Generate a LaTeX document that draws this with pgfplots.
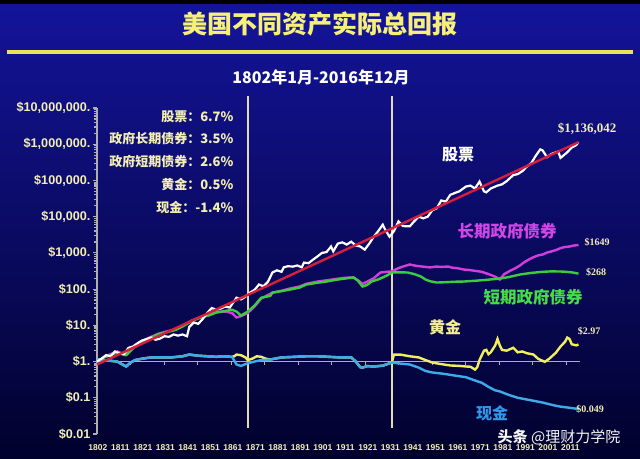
\documentclass[border=0pt]{standalone}
\usepackage{pgfplots}
\pgfplotsset{compat=1.18}
\usepackage{fontspec}
\setmainfont{Liberation Sans}
\newfontfamily\cjk{Noto Sans CJK SC}
\newfontfamily\tms{Liberation Serif}
\definecolor{bgtop}{RGB}{20,20,155}
\definecolor{bgmid}{RGB}{10,10,128}
\definecolor{bgbot}{RGB}{1,1,45}
\definecolor{cream}{RGB}{242,238,180}
\definecolor{titleyellow}{RGB}{246,240,120}
\definecolor{ruleyellow}{RGB}{236,226,90}
\definecolor{trendred}{RGB}{215,30,60}
\definecolor{bondmag}{RGB}{212,60,222}
\definecolor{billgreen}{RGB}{60,205,60}
\definecolor{goldyel}{RGB}{242,240,90}
\definecolor{cashcyan}{RGB}{60,172,232}
\definecolor{lblmag}{RGB}{210,70,232}
\definecolor{lblgreen}{RGB}{70,222,70}
\definecolor{lblgold}{RGB}{242,236,150}
\definecolor{lblcash}{RGB}{50,150,232}
\definecolor{vline}{RGB}{225,220,180}
\definecolor{axisgray}{RGB}{175,175,175}
\begin{document}
\begin{tikzpicture}[x=1pt,y=1pt]
\shade[top color=bgtop, middle color=bgmid, bottom color=bgbot] (0,0) rectangle (640,-458);
\fill[black] (0,0) rectangle (640,-4);
\node[text=titleyellow, font=\cjk\bfseries\fontsize{25}{25}\selectfont] at (320,-24) {美国不同资产实际总回报};
\fill[ruleyellow] (7,-50) rectangle (633,-54);
\node[text=white, font=\cjk\bfseries\fontsize{16}{16}\selectfont] at (321,-77) {1802年1月-2016年12月};
\begin{scope}[every node/.style={anchor=east, text=cream, font=\cjk\bfseries\fontsize{13}{13}\selectfont}]
\node at (237,-117) {股票：6.7\%};
\node at (237,-139) {政府长期债券：3.5\%};
\node at (237,-162) {政府短期债券：2.6\%};
\node at (237,-184) {黄金：0.5\%};
\node at (237,-207) {现金：-1.4\%};
\end{scope}
\draw[vline, line width=1.5pt] (248,-96) -- (248,-428);
\draw[vline, line width=1.5pt] (392,-96) -- (392,-428);
\draw[axisgray, line width=1pt] (97,-361.6) -- (580,-361.6);
\foreach \k in {1,...,14} \draw[axisgray, line width=1pt] ({97+33.5*\k},-361.6) -- ++(0,-3);
\begin{axis}[at={(97pt,-434pt)}, anchor=south west, scale only axis,
  width=481.5pt, height=326pt, xmin=1802, xmax=2016,
  ymode=log, ymin=0.01, ymax=1e7, clip=false,
  axis y line=left, axis x line=bottom, axis line style={-},
  x axis line style={draw=none}, y axis line style={draw=axisgray, line width=1.5pt},
  xtick={1802.4,1812.4,1822.4,1832.4,1842.4,1852.4,1862.4,1872.4,1882.4,1892.4,1902.4,1912.4,1922.4,1932.4,1942.4,1952.4,1962.4,1972.4,1982.4,1992.4,2002.4,2012.4},
  xticklabels={1802,1811,1821,1831,1841,1851,1861,1871,1881,1891,1901,1911,1921,1931,1941,1951,1961,1971,1981,1991,2001,2011},
  xtick style={draw=none},
  xticklabel style={text=cream, font=\bfseries\fontsize{8.5}{8.5}\selectfont, inner sep=0pt, yshift=-6pt},
  ytick={1e-2,1e-1,1,10,100,1000,1e4,1e5,1e6,1e7},
  yticklabels={{\$0.01},{\$0.1},{\$1.},{\$10.},{\$100.},{\$1,000.},{\$10,000.},{\$100,000.},{\$1,000,000.},{\$10,000,000.}},
  yticklabel style={text=cream, font=\bfseries\fontsize{12.6}{12.6}\selectfont, inner sep=0pt, anchor=east, xshift=-2.5pt},
  tick align=outside, major tick length=4pt,
  ytick style={draw=axisgray, line width=1.2pt},
  minor tick num=0,
]
% long-term government bonds
\addplot[bondmag, line width=2.4pt] coordinates {
(1802,1.0) (1805,1.3) (1808,1.6) (1811,1.9) (1813,1.7) (1815,1.6) (1818,2.5) (1821,3.4) (1825,4.5) (1829,5.8) (1833,6.8) (1837,7.8) (1840,9.8) (1844,13.5) (1848,17) (1852,20) (1855,23) (1859,24) (1862,22) (1864,16.5) (1866,18) (1869,22) (1872,33) (1875,55) (1880,80) (1884,90) (1888,105) (1892,118) (1895,140) (1900,162) (1904,175) (1908,190) (1912,205) (1916,210) (1918,175) (1920,140) (1922,160) (1925,200) (1928,288) (1931,300) (1933,309) (1936,380) (1938,420) (1941,479) (1943,450) (1945,430) (1948,410) (1950,398) (1953,420) (1955,410) (1958,420) (1960,390) (1962,380) (1965,347) (1967,340) (1970,320) (1973,300) (1976,260) (1979,220) (1981,184) (1983,260) (1986,330) (1988,380) (1990,450) (1992,560) (1994,660) (1996,760) (1998,850) (2000,900) (2002,1020) (2004,1100) (2006,1200) (2008,1350) (2009,1410) (2010,1450) (2012,1500) (2014,1600) (2016,1649)};
% short-term government bonds
\addplot[billgreen, line width=2.4pt] coordinates {
(1802,1.0) (1805,1.3) (1808,1.5) (1811,1.8) (1813,1.6) (1815,1.5) (1818,2.3) (1821,3.2) (1825,4.2) (1829,5.6) (1833,6.5) (1837,7.5) (1840,9.3) (1844,13) (1848,16.4) (1852,19) (1855,22.6) (1859,25) (1862,27) (1864,24) (1866,18.6) (1869,24) (1872,35) (1875,58) (1879,65) (1880,80) (1884,88) (1888,98) (1892,110) (1895,134) (1900,150) (1904,162) (1908,180) (1912,195) (1916,210) (1918,170) (1920,118) (1922,130) (1924,162) (1927,185) (1929,210) (1931,240) (1933,288) (1936,290) (1940,288) (1943,260) (1946,222) (1948,184) (1950,165) (1953,152) (1957,155) (1961,160) (1965,162) (1970,170) (1975,180) (1981,196) (1985,215) (1990,253) (1995,280) (2000,300) (2004,309) (2009,305) (2013,290) (2016,268)};
% gold
\addplot[goldyel, line width=2.4pt] coordinates {
(1802,1.14) (1805,1.1) (1808,1.05) (1811,1.0) (1813,0.85) (1815,0.73) (1817,0.95) (1819,1.1) (1822,1.2) (1826,1.3) (1830,1.3) (1835,1.3) (1840,1.4) (1843,1.56) (1847,1.45) (1851,1.4) (1855,1.35) (1858,1.4) (1862,1.35) (1863,1.4) (1864,1.56) (1866,1.5) (1868,1.3) (1869,1.1) (1871,1.2) (1873,1.4) (1875,1.35) (1877,1.2) (1879,1.14) (1884,1.3) (1890,1.35) (1895,1.4) (1900,1.4) (1905,1.35) (1910,1.3) (1915,1.3) (1917,1.0) (1919,0.70) (1920,0.68) (1922,0.75) (1925,0.73) (1929,0.77) (1931,0.85) (1933,0.94) (1934,1.56) (1937,1.55) (1941,1.4) (1945,1.3) (1948,1.1) (1951,0.94) (1955,0.85) (1959,0.78) (1963,0.76) (1966,0.73) (1968,0.72) (1970,0.6) (1971,0.7) (1972,1.1) (1974,2.0) (1975,2.1) (1976,1.6) (1977,1.8) (1979,2.8) (1980,4.2) (1981,2.8) (1982,2.1) (1984,2.0) (1987,2.4) (1989,1.8) (1991,1.9) (1993,1.7) (1996,1.56) (1998,1.2) (2000,1.05) (2001,0.98) (2003,1.2) (2006,1.77) (2008,2.6) (2010,3.5) (2011,4.6) (2012,4.2) (2013,3.0) (2014,2.9) (2015,2.8) (2016,2.97)};
% cash
\addplot[cashcyan, line width=2.4pt] coordinates {
(1802,1.14) (1805,1.1) (1808,1.05) (1811,1.0) (1813,0.85) (1815,0.73) (1817,0.95) (1819,1.1) (1822,1.2) (1826,1.3) (1830,1.3) (1835,1.3) (1840,1.4) (1843,1.56) (1847,1.45) (1851,1.4) (1855,1.35) (1858,1.4) (1862,1.35) (1864,0.83) (1866,0.76) (1869,0.9) (1872,1.0) (1875,1.1) (1879,1.14) (1884,1.3) (1890,1.35) (1895,1.4) (1900,1.4) (1905,1.35) (1910,1.3) (1915,1.3) (1917,1.0) (1919,0.70) (1920,0.68) (1922,0.75) (1925,0.73) (1929,0.77) (1931,0.85) (1933,0.94) (1937,0.88) (1941,0.83) (1945,0.68) (1948,0.55) (1951,0.5) (1956,0.46) (1960,0.42) (1966,0.37) (1970,0.3) (1973,0.26) (1976,0.2) (1979,0.16) (1981,0.15) (1985,0.12) (1989,0.1) (1995,0.085) (2000,0.074) (2005,0.062) (2008,0.057) (2012,0.053) (2016,0.049)};
% stocks
\addplot[white, line width=2.2pt] coordinates {
(1802,1.0) (1804,1.2) (1806,1.5) (1808,1.4) (1810,1.9) (1812,1.7) (1814,1.6) (1816,2.4) (1818,2.6) (1820,3.2) (1822,3.8) (1824,4.2) (1826,4.6) (1828,4.0) (1830,4.3) (1832,5.0) (1834,4.8) (1836,5.6) (1838,5.2) (1840,5.6) (1842,5.0) (1843,9) (1845,12) (1847,11) (1849,15) (1851,22) (1853,30) (1855,27) (1857,29) (1859,33) (1861,31) (1864,58) (1866,52) (1868,62) (1870,80) (1872,95) (1874,134) (1876,120) (1878,160) (1880,290) (1882,330) (1884,300) (1885,400) (1887,430) (1889,417) (1891,450) (1893,400) (1894,540) (1896,520) (1898,650) (1900,800) (1902,1000) (1904,1050) (1906,1500) (1907,1100) (1909,1800) (1911,1950) (1913,1700) (1915,2040) (1917,1600) (1919,1500) (1921,1230) (1923,1800) (1925,2800) (1927,4000) (1929,6000) (1930,4500) (1932,2800) (1934,4000) (1936,7400) (1938,5500) (1941,5400) (1943,7500) (1945,10000) (1947,9000) (1949,10000) (1951,15000) (1953,17000) (1955,28000) (1957,26000) (1959,40000) (1961,45000) (1963,50000) (1966,68000) (1968,72000) (1970,60000) (1972,93000) (1974,50000) (1975,47000) (1977,60000) (1980,72000) (1982,78000) (1984,95000) (1987,140000) (1989,150000) (1991,180000) (1993,240000) (1995,300000) (1997,480000) (1999,720000) (2000,680000) (2002,440000) (2004,540000) (2007,630000) (2008,420000) (2009,470000) (2011,600000) (2013,810000) (2015,950000) (2016,1136042)};
% trend line
\addplot[trendred, line width=2.4pt] coordinates {(1802,0.83) (2016,1136042)};
\end{axis}
\begin{scope}[every node/.style={inner sep=0pt}]
\node[text=cream, font=\tms\bfseries\fontsize{13}{13}\selectfont] at (587,-129) {\$1,136,042};
\node[text=white, font=\cjk\bfseries\fontsize{16}{16}\selectfont] at (458,-155) {股票};
\node[text=lblmag, font=\cjk\bfseries\fontsize{16.5}{16.5}\selectfont] at (507,-231) {长期政府债券};
\node[text=cream, font=\tms\bfseries\fontsize{10}{10}\selectfont] at (597,-242) {\$1649};
\node[text=cream, font=\tms\bfseries\fontsize{10}{10}\selectfont] at (596,-272) {\$268};
\node[text=lblgreen, font=\cjk\bfseries\fontsize{16.5}{16.5}\selectfont] at (533,-297) {短期政府债券};
\node[text=lblgold, font=\cjk\bfseries\fontsize{16}{16}\selectfont] at (445,-327) {黄金};
\node[text=cream, font=\tms\bfseries\fontsize{10}{10}\selectfont] at (589,-331) {\$2.97};
\node[text=lblcash, font=\cjk\bfseries\fontsize{16}{16}\selectfont] at (492,-413) {现金};
\node[text=cream, font=\tms\bfseries\fontsize{10}{10}\selectfont] at (590,-409) {\$0.049};
\node[text=white!92!gray, font=\cjk\fontsize{15}{15}\selectfont] at (559,-437) {{\bfseries 头条} @理财力学院};
\end{scope}
\end{tikzpicture}
\end{document}
